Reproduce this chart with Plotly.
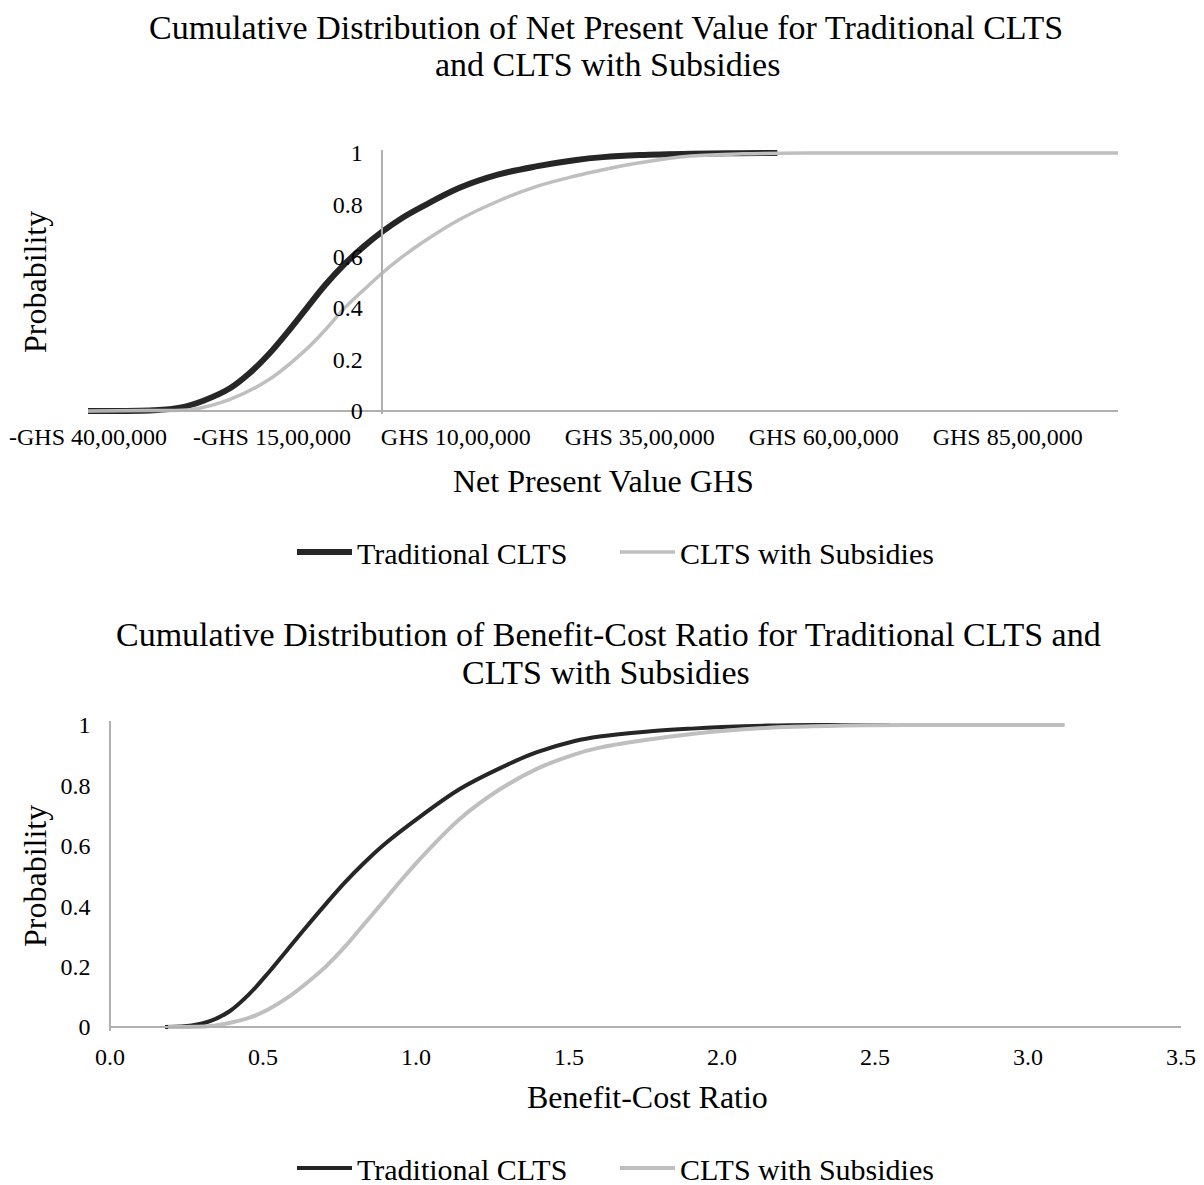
import plotly.graph_objects as go

# ---------------- data ----------------
npv_x_trad = [-4.0e6, -3.11e6, -2.75e6, -2.44e6, -2.07e6, -1.81e6, -1.55e6, -1.29e6, -1.03e6,
              -0.77e6, -0.51e6, -0.25e6, 0.0, 0.27e6, 0.53e6, 1.05e6, 1.57e6, 2.09e6, 2.61e6,
              3.0e6, 3.5e6, 4.2e6, 4.8e6, 5.37e6]
npv_p_trad = [0.0, 0.003, 0.013, 0.039, 0.088, 0.145, 0.218, 0.305, 0.398, 0.49, 0.57, 0.638,
              0.695, 0.748, 0.79, 0.865, 0.916, 0.948, 0.972, 0.984, 0.992, 0.997, 0.999, 1.0]

npv_x_sub = [-4.0e6, -3.2e6, -2.59e6, -2.07e6, -1.55e6, -1.03e6, -0.77e6, -0.51e6, -0.25e6,
             0.0, 0.27e6, 0.53e6, 1.05e6, 1.57e6, 2.09e6, 2.61e6, 3.0e6, 3.5e6, 4.2e6, 4.9e6,
             6.0e6, 8.0e6, 10.0e6]
npv_p_sub = [0.0, 0.002, 0.006, 0.045, 0.12, 0.24, 0.316, 0.40, 0.47, 0.535, 0.597, 0.65,
             0.742, 0.813, 0.87, 0.91, 0.935, 0.962, 0.988, 0.997, 1.0, 1.0, 1.0]

bcr_x_trad = [0.18, 0.267, 0.329, 0.392, 0.454, 0.517, 0.580, 0.642, 0.705, 0.767, 0.830, 0.893,
              1.018, 1.143, 1.268, 1.393, 1.519, 1.60, 1.75, 1.9, 2.0, 2.15, 2.3, 2.55]
bcr_p_trad = [0.0, 0.005, 0.02, 0.053, 0.108, 0.179, 0.256, 0.332, 0.407, 0.478, 0.543, 0.602,
              0.70, 0.788, 0.854, 0.909, 0.947, 0.962, 0.978, 0.988, 0.993, 0.998, 1.0, 1.0]

bcr_x_sub = [0.19, 0.329, 0.392, 0.454, 0.517, 0.580, 0.642, 0.705, 0.767, 0.830, 0.893, 0.955,
             1.018, 1.143, 1.268, 1.393, 1.519, 1.60, 1.75, 1.9, 2.0, 2.2, 2.4, 2.6, 3.12]
bcr_p_sub = [0.0, 0.003, 0.014, 0.03, 0.058, 0.097, 0.145, 0.20, 0.265, 0.34, 0.415, 0.49,
             0.562, 0.689, 0.783, 0.854, 0.903, 0.925, 0.95, 0.97, 0.98, 0.993, 0.998, 1.0, 1.0]

npv_tickvals = [-4.0e6, -1.5e6, 1.0e6, 3.5e6, 6.0e6, 8.5e6]
npv_ticktext = ["-GHS 40,00,000", "-GHS 15,00,000", "GHS 10,00,000", "GHS 35,00,000",
                "GHS 60,00,000", "GHS 85,00,000"]
bcr_tickvals = [0.0, 0.5, 1.0, 1.5, 2.0, 2.5, 3.0, 3.5]
bcr_ticktext = ["0.0", "0.5", "1.0", "1.5", "2.0", "2.5", "3.0", "3.5"]
prob_tickvals = [0, 0.2, 0.4, 0.6, 0.8, 1.0]
prob_ticktext = ["0", "0.2", "0.4", "0.6", "0.8", "1"]

series_names = ["Traditional CLTS", "CLTS with Subsidies"]

# ---------------- styling / layout ----------------
OFF = 8  # browser body margin
W, H = 1204 - OFF, 1185 - OFF
FONT = "Liberation Serif"
DARK = "#262626"
LIGHT = "#BFBFBF"
AXIS = "#B0B0B0"


def px(x):
    return (x - OFF) / W


def py(y):
    return 1 - (y - OFF) / H


PAD = 0.012
T_x0, T_x1, T_y0, T_y1 = 88, 1118, 411, 153
t_unit = (T_y0 - T_y1)
B_x0, B_x1, B_y0, B_y1 = 110, 1181, 1027, 725
b_unit = (B_y0 - B_y1)

npv_range = [-4.0e6, 10.0e6]
yaxis_zero_x = T_x0 + (0 - npv_range[0]) / (npv_range[1] - npv_range[0]) * (T_x1 - T_x0)

fig = go.Figure()
fig.add_trace(go.Scatter(x=npv_x_trad, y=npv_p_trad, mode="lines", name=series_names[0],
                         line=dict(color=DARK, width=6, shape="spline", smoothing=1.0),
                         xaxis="x", yaxis="y", legend="legend"))
fig.add_trace(go.Scatter(x=npv_x_sub, y=npv_p_sub, mode="lines", name=series_names[1],
                         line=dict(color=LIGHT, width=3.5, shape="spline", smoothing=1.0),
                         xaxis="x", yaxis="y", legend="legend"))
fig.add_trace(go.Scatter(x=bcr_x_trad, y=bcr_p_trad, mode="lines", name=series_names[0],
                         line=dict(color=DARK, width=4, shape="spline", smoothing=1.0),
                         xaxis="x2", yaxis="y2", legend="legend2"))
fig.add_trace(go.Scatter(x=bcr_x_sub, y=bcr_p_sub, mode="lines", name=series_names[1],
                         line=dict(color=LIGHT, width=4, shape="spline", smoothing=1.0),
                         xaxis="x2", yaxis="y2", legend="legend2"))

tickfont = dict(family=FONT, size=24, color="#000000")
common_axis = dict(showgrid=False, zeroline=False, showline=True, linecolor=AXIS, linewidth=1.5,
                   ticks="", tickfont=tickfont, fixedrange=True, automargin=False)

legend_common = dict(orientation="h", x=px(292), xanchor="left", yanchor="middle",
                     font=dict(family=FONT, size=30), itemwidth=55, bgcolor="rgba(0,0,0,0)",
                     entrywidth=253, entrywidthmode="pixels")

fig.update_layout(
    width=W, height=H, autosize=False,
    margin=dict(l=0, r=0, t=0, b=0, autoexpand=False),
    paper_bgcolor="white", plot_bgcolor="white",
    font=dict(family=FONT, color="#000000"),
    xaxis=dict(domain=[px(T_x0), px(T_x1)], range=npv_range, anchor="free",
               position=py(T_y0), tickvals=npv_tickvals, ticktext=npv_ticktext,
               ticklabelstandoff=4, **common_axis),
    yaxis=dict(domain=[py(T_y0 + PAD * t_unit), py(T_y1 - PAD * t_unit)],
               range=[-PAD, 1 + PAD], anchor="free", position=px(yaxis_zero_x),
               tickvals=prob_tickvals, ticktext=prob_ticktext, ticklabelstandoff=14,
               **common_axis),
    xaxis2=dict(domain=[px(B_x0), px(B_x1)], range=[0, 3.5], anchor="free",
                position=py(B_y0), tickvals=bcr_tickvals, ticktext=bcr_ticktext,
                ticklabelstandoff=8, **common_axis),
    yaxis2=dict(domain=[py(B_y0 + PAD * b_unit), py(B_y1 - PAD * b_unit)],
                range=[-PAD, 1 + PAD], anchor="free", position=px(B_x0),
                tickvals=prob_tickvals, ticktext=prob_ticktext, ticklabelstandoff=14,
                **common_axis),
    legend=dict(y=py(552), **legend_common),
    legend2=dict(y=py(1168), **legend_common),
    showlegend=True,
)

annotations = [
    dict(text="Cumulative Distribution of Net Present Value for Traditional CLTS",
         x=px(606), y=py(27), font=dict(size=34)),
    dict(text="and CLTS with Subsidies", x=px(607), y=py(64), font=dict(size=34)),
    dict(text="Cumulative Distribution of Benefit-Cost Ratio for Traditional CLTS and",
         x=px(608), y=py(635), font=dict(size=34)),
    dict(text="CLTS with Subsidies", x=px(606), y=py(672), font=dict(size=34)),
    dict(text="Net Present Value GHS", x=px(603), y=py(481), font=dict(size=32)),
    dict(text="Benefit-Cost Ratio", x=px(647), y=py(1097), font=dict(size=32)),
    dict(text="Probability", x=px(35), y=py(282), textangle=-90, font=dict(size=32)),
    dict(text="Probability", x=px(35), y=py(876), textangle=-90, font=dict(size=32)),
]
for a in annotations:
    a.update(xref="paper", yref="paper", showarrow=False, xanchor="center", yanchor="middle")
    a["font"].update(family=FONT, color="#000000")
fig.update_layout(annotations=annotations)

fig.write_html("out.html")
